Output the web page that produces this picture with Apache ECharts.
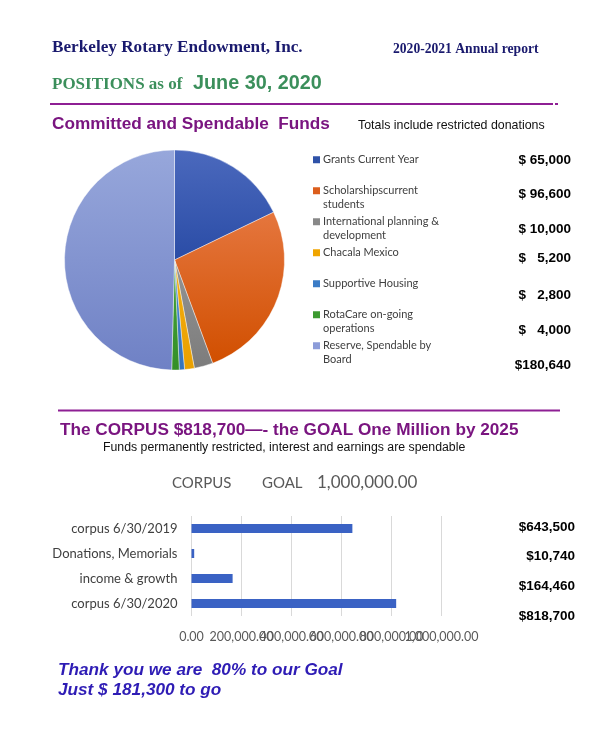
<!DOCTYPE html>
<html><head><meta charset="utf-8">
<script src="https://cdn.jsdelivr.net/npm/echarts@6/dist/echarts.min.js"></script>
<style>html,body{margin:0;padding:0;background:#fff}#c{width:600px;height:755px}</style>
</head><body><div id="c"></div>
<script>
// ---- data ----
const fundNames = ['Grants Current Year','Scholarshipscurrent students','International planning & development','Chacala Mexico','Supportive Housing','RotaCare on-going operations','Reserve, Spendable by Board'];
const fundLegendLines = [['Grants Current Year',''],['Scholarshipscurrent','students'],['International planning &','development'],['Chacala Mexico',''],['Supportive Housing',''],['RotaCare on-going','operations'],['Reserve, Spendable by','Board']];
const fundValues = [65000, 96600, 10000, 5200, 2800, 4000, 180640];
const fundColors = ['#2f52a8','#dc5e1c','#888888','#f0a500','#3b7cc6','#3c9a30','#8c9cd9'];
const fundGradTop = ['#4b69bd','#e5763e','#949494','#f4ad10','#4588cc','#46a33a','#97a7db'];
const fundGradBot = ['#2a4ca6','#d14f00','#7c7c7c','#e9a000','#3573bd','#348f28','#6f81c5'];

const corpusCategories = ['corpus 6/30/2019','Donations, Memorials','income & growth','corpus 6/30/2020'];
const corpusValues = [643500, 10740, 164460, 818700];
const corpusTicks = [0, 200000, 400000, 600000, 800000, 1000000];

// ---- layout (positions only) ----
const fundValueY = [160.7, 194.5, 229.3, 258.3, 295, 330, 365.5];
const corpusValueY = [527, 556.5, 586.5, 616];

const tickMin = corpusTicks[0];
const tickMax = corpusTicks[corpusTicks.length-1];
const tickStep = corpusTicks[1]-corpusTicks[0];

function fmtFund(v){
  const s = v.toLocaleString('en-US');
  if (s.length >= 7) return '$' + s;
  return '$ ' + '  '.repeat(6 - s.length) + s;
}
function fmtTick(v){ return v.toLocaleString('en-US',{minimumFractionDigits:2, maximumFractionDigits:2}); }
function txt(x, y, text, font, fill, align){
  return {type:'text', x:x, y:y, silent:true, style:{text:text, font:font, fill:fill,
    textAlign:align||'left', align:align||'left', textVerticalAlign:'middle', verticalAlign:'middle'}};
}

const rich = {
  g:{width:3}, s:{width:10},
  t:{fontFamily:'Lato', fontSize:11, color:'#404040', lineHeight:13.5}
};
fundColors.forEach((c,i)=>{ rich['m'+i] = {width:7, height:7, backgroundColor:c}; });

const graphics = [
  txt(52, 48, 'Berkeley Rotary Endowment, Inc.', 'bold 17.2px "Liberation Serif"', '#1a1a6e'),
  txt(393, 49.5, '2020-2021 Annual report', 'bold 13.6px "Liberation Serif"', '#1a1a6e'),
  txt(52, 85, 'POSITIONS as of', 'bold 17px "Liberation Serif"', '#3b8f5b'),
  txt(193, 84, 'June 30, 2020', 'bold 19.8px "Liberation Sans"', '#3b8f5b'),
  {type:'line', silent:true, shape:{x1:50, y1:104, x2:553, y2:104}, style:{stroke:'#8e1f94', lineWidth:2}},
  {type:'line', silent:true, shape:{x1:555, y1:104, x2:558, y2:104}, style:{stroke:'#8e1f94', lineWidth:2}},
  txt(52, 124.5, 'Committed and Spendable  Funds', 'bold 17.2px "Liberation Sans"', '#7a1580'),
  txt(358, 125.5, 'Totals include restricted donations', '12.4px "Liberation Sans"', '#111111'),
  {type:'line', silent:true, shape:{x1:58, y1:410.5, x2:560, y2:410.5}, style:{stroke:'#8e1f94', lineWidth:2}},
  txt(60, 430, 'The CORPUS $818,700\u2014- the GOAL One Million by 2025', 'bold 17.2px "Liberation Sans"', '#7a1580'),
  txt(103, 448, 'Funds permanently restricted, interest and earnings are spendable', '12.3px "Liberation Sans"', '#111111'),
  txt(172, 483, 'CORPUS', '15px Lato', '#595959'),
  txt(262, 483, 'GOAL', '15px Lato', '#595959'),
  txt(317, 483, '1,000,000.00', '17px Lato', '#595959'),
  txt(58, 670.5, 'Thank you we are  80% to our Goal', 'italic bold 17.2px "Liberation Sans"', '#2e1cb5'),
  txt(58, 690, 'Just $ 181,300 to go', 'italic bold 17.2px "Liberation Sans"', '#2e1cb5')
];
fundValues.forEach((v,i)=>{
  graphics.push(txt(571, fundValueY[i], fmtFund(v), 'bold 13.5px "Liberation Sans"', '#000000', 'right'));
});
corpusValues.forEach((v,i)=>{
  graphics.push(txt(575, corpusValueY[i], '$' + v.toLocaleString('en-US'), 'bold 13.5px "Liberation Sans"', '#000000', 'right'));
});

const axisLabelBase = {margin:14, color:'#595959', fontFamily:'Lato', fontSize:12.5, hideOverlap:false,
  showMinLabel:true, showMaxLabel:true};

const chart = echarts.init(document.getElementById('c'), null, {renderer:'canvas'});
chart.setOption({
  animation:false,
  backgroundColor:'#ffffff',
  legend:{
    orient:'vertical', left:302, top:148, itemGap:4,
    itemWidth:0, itemHeight:0, icon:'rect', selectedMode:false,
    data:fundNames,
    formatter:function(name){
      const i = fundNames.indexOf(name);
      const l = fundLegendLines[i];
      return '{m'+i+'|}{g|}{t|'+l[0]+'}\n{s|}{t|'+(l[1]||' ')+'}';
    },
    textStyle:{rich:rich, lineHeight:13.5, fontFamily:'Lato', fontSize:11, color:'#404040'}
  },
  grid:{left:191.5, top:516, width:250, height:100, containLabel:false},
  xAxis:[
    {
      type:'value', position:'bottom', min:tickMin, max:tickMax, interval:tickStep,
      axisLine:{show:false}, axisTick:{show:false},
      splitLine:{show:true, lineStyle:{color:'#d9d9d9', width:1}},
      axisLabel:Object.assign({}, axisLabelBase, {
        formatter:function(v){ return v === tickMax ? '' : fmtTick(v); }})
    },
    {
      type:'value', position:'bottom', offset:0, min:tickMin, max:tickMax, interval:tickStep,
      axisLine:{show:false}, axisTick:{show:false}, splitLine:{show:false},
      axisLabel:Object.assign({}, axisLabelBase, {
        formatter:function(v){ return v === tickMax ? fmtTick(v) : ''; }})
    }
  ],
  yAxis:{
    type:'category', inverse:true, data:corpusCategories,
    axisLine:{show:false}, axisTick:{show:false}, splitLine:{show:false},
    axisLabel:{margin:14, color:'#404040', fontFamily:'Lato', fontSize:13}
  },
  series:[
    {
      type:'pie', center:[174.5, 260], radius:110, startAngle:90, clockwise:true,
      label:{show:false}, labelLine:{show:false}, emphasis:{disabled:true},
      data:fundNames.map((n,i)=>({name:n, value:fundValues[i],
        itemStyle:{color:{type:'linear', x:0, y:0, x2:0, y2:1,
          colorStops:[{offset:0, color:fundGradTop[i]},{offset:1, color:fundGradBot[i]}]},
          borderColor:'rgba(255,255,255,0.7)', borderWidth:0.6}})),
      color:fundColors
    },
    {
      type:'bar', data:corpusValues, barWidth:9, xAxisIndex:0, yAxisIndex:0,
      itemStyle:{color:'#3a62c4'}, emphasis:{disabled:true}
    }
  ],
  graphic:graphics
});
</script></body></html>
